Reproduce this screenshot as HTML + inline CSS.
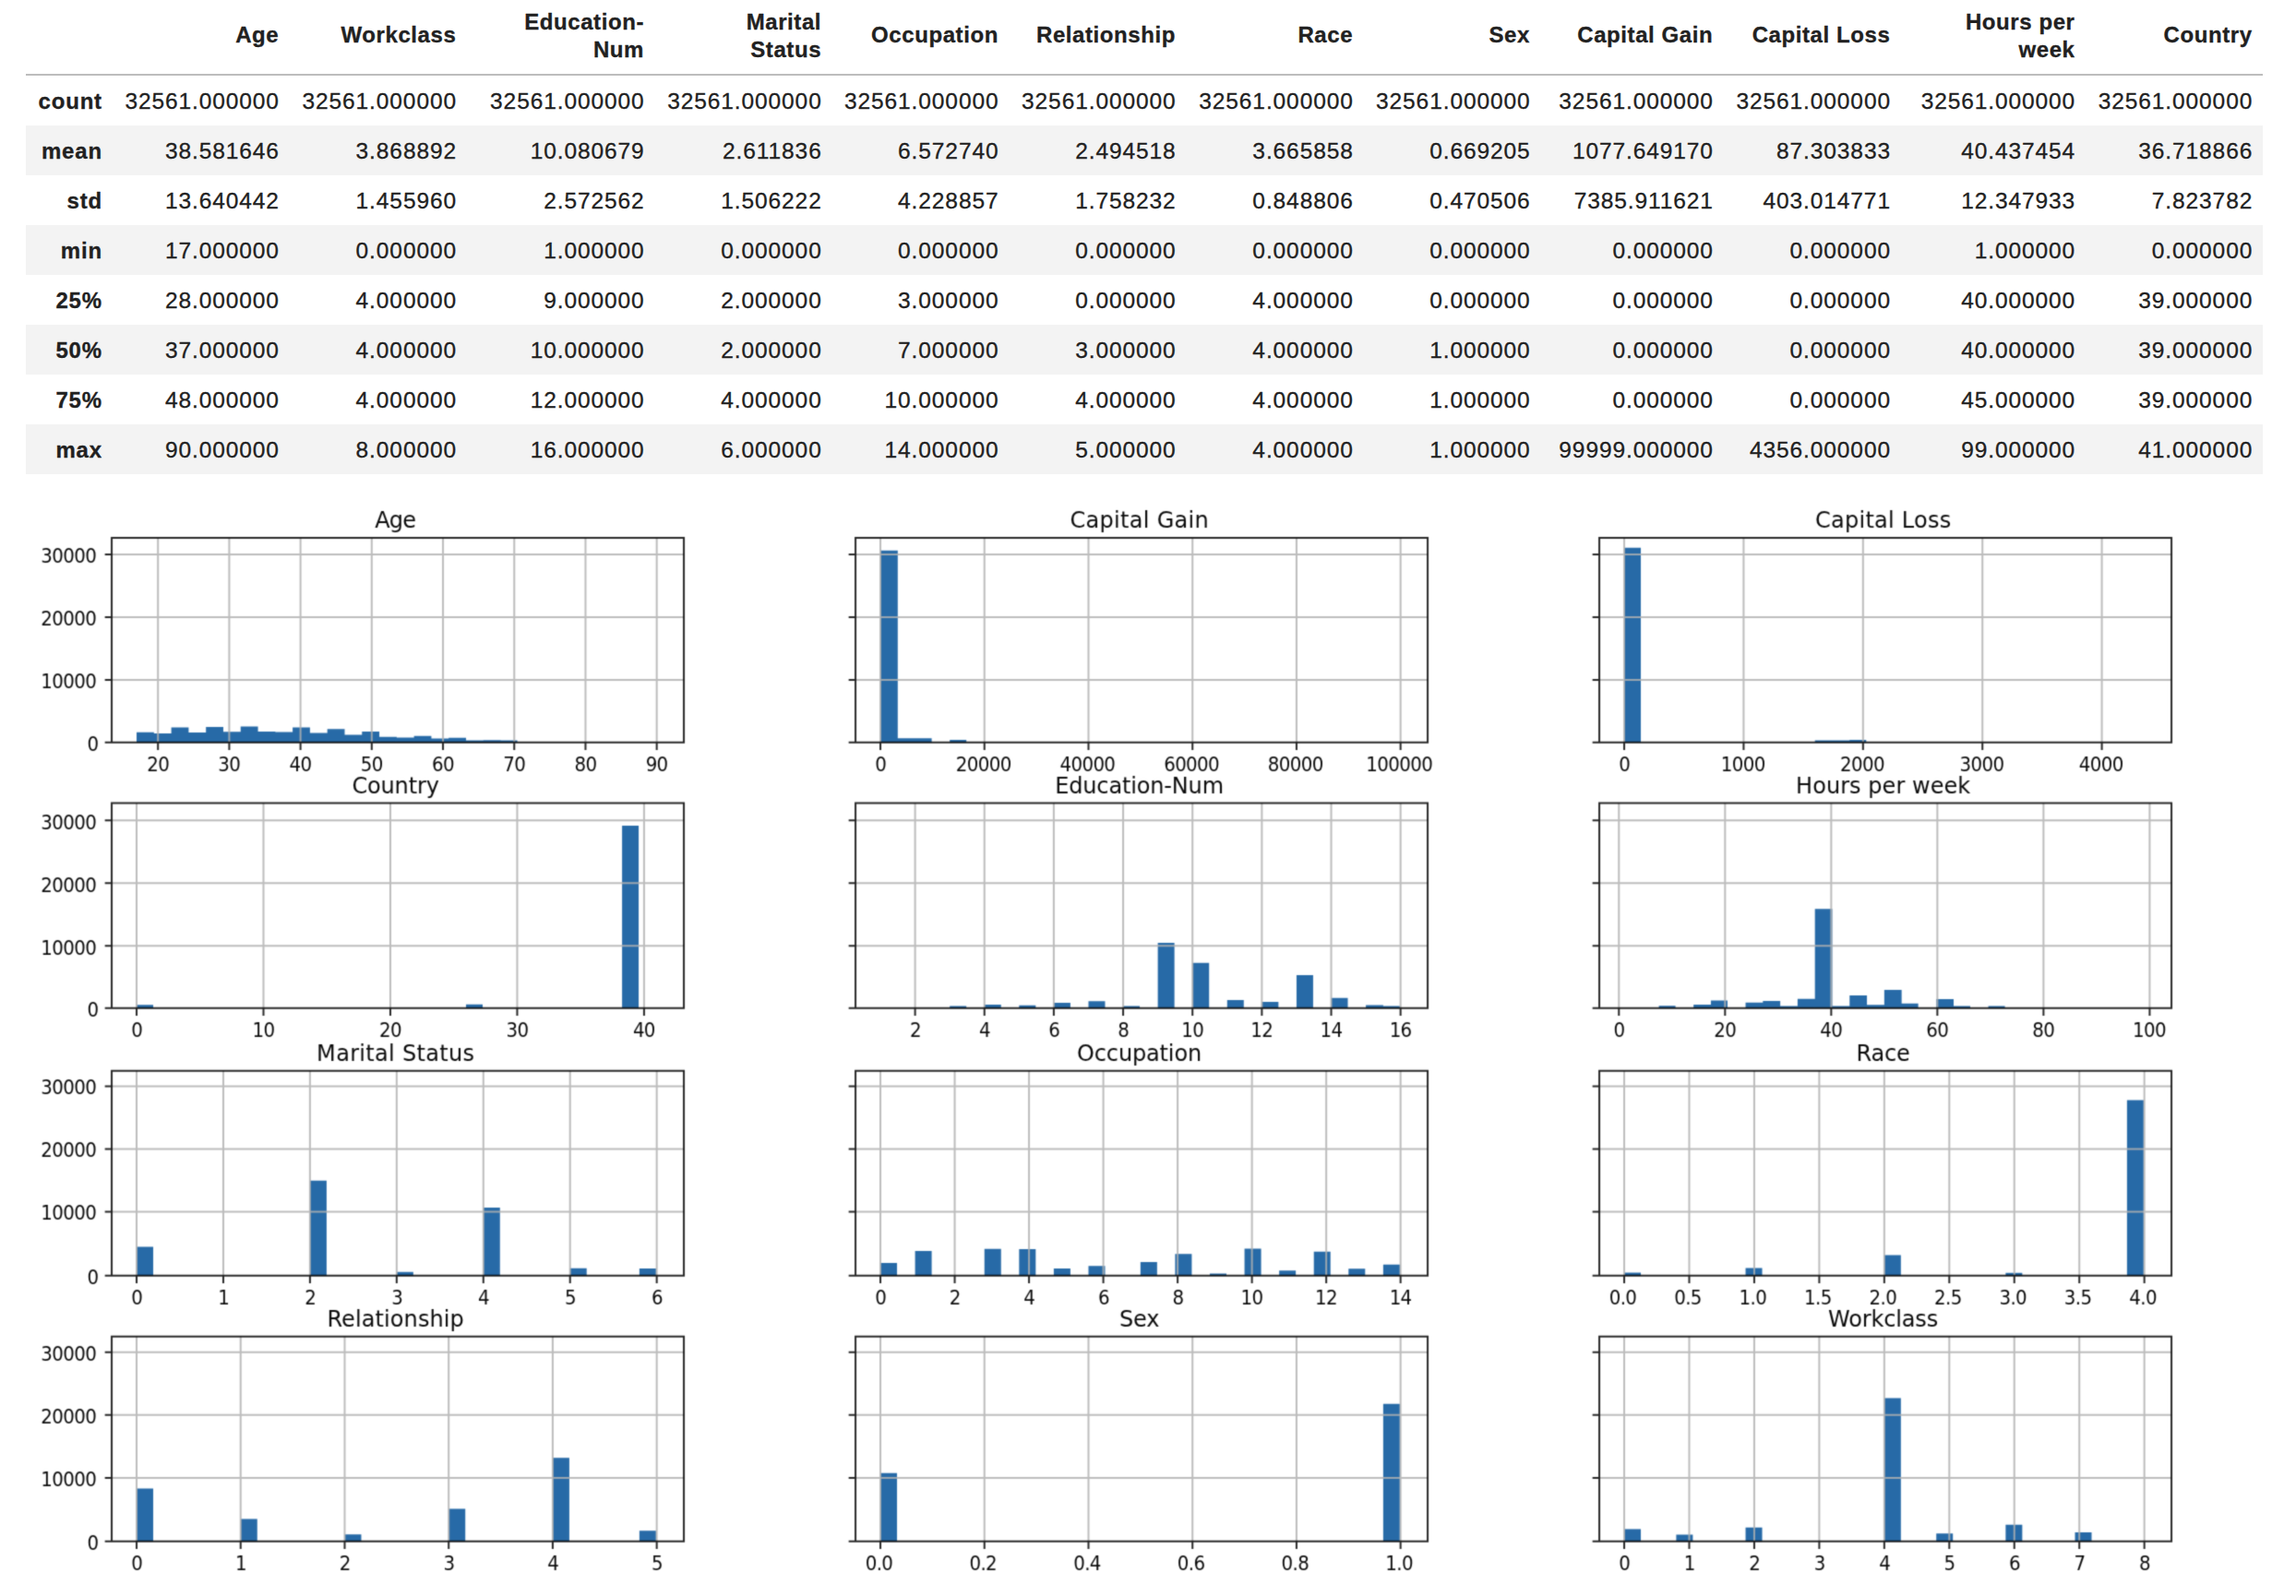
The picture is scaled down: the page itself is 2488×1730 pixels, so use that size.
<!DOCTYPE html>
<html lang="en"><head><meta charset="utf-8"><title>describe and hist</title><style>
html,body{margin:0;padding:0;background:#fff;}
body{width:2488px;height:1730px;position:relative;overflow:hidden;font-family:"Liberation Sans",Arial,sans-serif;color:#212121;}
table.df{position:absolute;left:28px;top:-2px;width:2423.8px;table-layout:fixed;border-collapse:separate;border-spacing:0;font-size:24.5px;line-height:30px;}
table.df th{-webkit-text-stroke:0.3px #212121;}
table.df th,table.df td{text-align:right;padding:0 12.2px 0 0;white-space:nowrap;overflow:visible;box-sizing:border-box;vertical-align:middle;}
table.df thead th{height:84px;border-bottom:2px solid #bdbdbd;font-weight:bold;font-size:24px;letter-spacing:0.58px;padding-bottom:1px;padding-right:11.2px;}
table.df thead th.s{padding-bottom:3px;}
table.df tbody th{font-weight:bold;font-size:24px;letter-spacing:0.8px;padding-right:10.8px;padding-top:2px;}
table.df tbody td{-webkit-text-stroke:0.3px #212121;letter-spacing:0.9px;padding-right:10.6px;padding-top:2px;}
table.df tbody tr{height:54px;}
table.df tbody tr:nth-child(even){background:#f3f3f3;}
svg.fig{position:absolute;left:0;top:0;}
svg.fig .tk{font-family:'DejaVu Sans Condensed','DejaVu Sans',sans-serif;font-size:22px;letter-spacing:-0.6px;}
svg.fig .tt{font-size:24px;letter-spacing:-0.15px;}
</style></head><body>
<table class="df">
<colgroup><col style="width:93.7px"><col style="width:191.8px"><col style="width:192.1px"><col style="width:203.6px"><col style="width:192.1px"><col style="width:191.8px"><col style="width:192.1px"><col style="width:192.2px"><col style="width:191.8px"><col style="width:198.3px"><col style="width:192.1px"><col style="width:200.2px"><col style="width:192.0px"></colgroup>
<thead><tr><th></th><th class="s">Age</th><th class="s">Workclass</th><th>Education-<br>Num</th><th>Marital<br>Status</th><th class="s">Occupation</th><th class="s">Relationship</th><th class="s">Race</th><th class="s">Sex</th><th class="s">Capital Gain</th><th class="s">Capital Loss</th><th>Hours per<br>week</th><th class="s">Country</th></tr></thead>
<tbody>
<tr><th>count</th><td>32561.000000</td><td>32561.000000</td><td>32561.000000</td><td>32561.000000</td><td>32561.000000</td><td>32561.000000</td><td>32561.000000</td><td>32561.000000</td><td>32561.000000</td><td>32561.000000</td><td>32561.000000</td><td>32561.000000</td></tr>
<tr><th>mean</th><td>38.581646</td><td>3.868892</td><td>10.080679</td><td>2.611836</td><td>6.572740</td><td>2.494518</td><td>3.665858</td><td>0.669205</td><td>1077.649170</td><td>87.303833</td><td>40.437454</td><td>36.718866</td></tr>
<tr><th>std</th><td>13.640442</td><td>1.455960</td><td>2.572562</td><td>1.506222</td><td>4.228857</td><td>1.758232</td><td>0.848806</td><td>0.470506</td><td>7385.911621</td><td>403.014771</td><td>12.347933</td><td>7.823782</td></tr>
<tr><th>min</th><td>17.000000</td><td>0.000000</td><td>1.000000</td><td>0.000000</td><td>0.000000</td><td>0.000000</td><td>0.000000</td><td>0.000000</td><td>0.000000</td><td>0.000000</td><td>1.000000</td><td>0.000000</td></tr>
<tr><th>25%</th><td>28.000000</td><td>4.000000</td><td>9.000000</td><td>2.000000</td><td>3.000000</td><td>0.000000</td><td>4.000000</td><td>0.000000</td><td>0.000000</td><td>0.000000</td><td>40.000000</td><td>39.000000</td></tr>
<tr><th>50%</th><td>37.000000</td><td>4.000000</td><td>10.000000</td><td>2.000000</td><td>7.000000</td><td>3.000000</td><td>4.000000</td><td>1.000000</td><td>0.000000</td><td>0.000000</td><td>40.000000</td><td>39.000000</td></tr>
<tr><th>75%</th><td>48.000000</td><td>4.000000</td><td>12.000000</td><td>4.000000</td><td>10.000000</td><td>4.000000</td><td>4.000000</td><td>1.000000</td><td>0.000000</td><td>0.000000</td><td>45.000000</td><td>39.000000</td></tr>
<tr><th>max</th><td>90.000000</td><td>8.000000</td><td>16.000000</td><td>6.000000</td><td>14.000000</td><td>5.000000</td><td>4.000000</td><td>1.000000</td><td>99999.000000</td><td>4356.000000</td><td>99.000000</td><td>41.000000</td></tr>
</tbody></table>
<svg class="fig" width="2488" height="1730" viewBox="0 0 2488 1730">
<defs><filter id="soft" filterUnits="userSpaceOnUse" x="0" y="520" width="2488" height="1210" color-interpolation-filters="sRGB"><feConvolveMatrix order="3" kernelMatrix="1 4 1 4 16 4 1 4 1" divisor="36" edgeMode="none" preserveAlpha="false"/></filter></defs>
<g filter="url(#soft)" font-family="'DejaVu Sans', 'Liberation Sans', sans-serif" fill="#0a0a0a">
<g>
<path fill="#276aa7" d="M148.03 804.7H166.82V793.79H148.03zM166.82 804.7H185.61V795.04H166.82zM185.61 804.7H204.4V788.46H185.61zM204.4 804.7H223.18V794H204.4zM223.18 804.7H241.97V787.95H223.18zM241.97 804.7H260.76V793.16H241.97zM260.76 804.7H279.55V787.45H260.76zM279.55 804.7H298.33V792.99H279.55zM298.33 804.7H317.12V793.6H298.33zM317.12 804.7H335.91V788.61H317.12zM335.91 804.7H354.7V794.51H335.91zM354.7 804.7H373.49V790.13H354.7zM373.49 804.7H392.27V796.55H373.49zM392.27 804.7H411.06V792.99H392.27zM411.06 804.7H429.85V798.65H411.06zM429.85 804.7H448.64V799.39H429.85zM448.64 804.7H467.43V797.64H448.64zM467.43 804.7H486.21V800.52H467.43zM486.21 804.7H505V799.7H486.21zM505 804.7H523.79V802.4H505zM523.79 804.7H542.58V802.2H523.79zM542.58 804.7H560.57V802.4H542.58z"/>
<path fill="none" stroke="#b0b0b0" stroke-opacity="0.85" stroke-width="2" d="M171.19 583V804.7M248.41 583V804.7M325.62 583V804.7M402.83 583V804.7M480.04 583V804.7M557.25 583V804.7M634.46 583V804.7M711.67 583V804.7M121.05 737.02H741.05M121.05 668.99H741.05M121.05 600.95H741.05"/>
<path fill="none" stroke="#000" stroke-opacity="0.85" stroke-width="2" stroke-linejoin="miter" d="M171.19 804.7v8.2M248.41 804.7v8.2M325.62 804.7v8.2M402.83 804.7v8.2M480.04 804.7v8.2M557.25 804.7v8.2M634.46 804.7v8.2M711.67 804.7v8.2M121.05 804.7h-7.4M121.05 737.02h-7.4M121.05 668.99h-7.4M121.05 600.95h-7.4M121.05 583H741.05V804.7H121.05z"/>
<text class="tk" x="171.14" y="836.1" text-anchor="middle">20</text>
<text class="tk" x="248.36" y="836.1" text-anchor="middle">30</text>
<text class="tk" x="325.57" y="836.1" text-anchor="middle">40</text>
<text class="tk" x="402.78" y="836.1" text-anchor="middle">50</text>
<text class="tk" x="479.99" y="836.1" text-anchor="middle">60</text>
<text class="tk" x="557.2" y="836.1" text-anchor="middle">70</text>
<text class="tk" x="634.41" y="836.1" text-anchor="middle">80</text>
<text class="tk" x="711.62" y="836.1" text-anchor="middle">90</text>
<text class="tk" x="106.55" y="813.7" text-anchor="end">0</text>
<text class="tk" x="104.15" y="745.82" text-anchor="end">10000</text>
<text class="tk" x="104.15" y="677.79" text-anchor="end">20000</text>
<text class="tk" x="104.15" y="609.75" text-anchor="end">30000</text>
<text class="tt" x="428.25" y="572.4" text-anchor="middle" style="letter-spacing:-0.75px">Age</text>
</g>
<g>
<path fill="#276aa7" d="M954.03 804.7H972.82V596.87H954.03zM972.82 804.7H991.61V800.3H972.82zM991.61 804.7H1009.6V800.3H991.61zM1029.18 804.7H1047.17V801.98H1029.18z"/>
<path fill="none" stroke="#b0b0b0" stroke-opacity="0.85" stroke-width="2" d="M954.03 583V804.7M1066.76 583V804.7M1179.49 583V804.7M1292.22 583V804.7M1404.95 583V804.7M1517.67 583V804.7M927.05 737.02H1547.05M927.05 668.99H1547.05M927.05 600.95H1547.05"/>
<path fill="none" stroke="#000" stroke-opacity="0.85" stroke-width="2" stroke-linejoin="miter" d="M954.03 804.7v8.2M1066.76 804.7v8.2M1179.49 804.7v8.2M1292.22 804.7v8.2M1404.95 804.7v8.2M1517.67 804.7v8.2M927.05 804.7h-7.4M927.05 737.02h-7.4M927.05 668.99h-7.4M927.05 600.95h-7.4M927.05 583H1547.05V804.7H927.05z"/>
<text class="tk" x="954.33" y="836.1" text-anchor="middle">0</text>
<text class="tk" x="1065.66" y="836.1" text-anchor="middle">20000</text>
<text class="tk" x="1178.39" y="836.1" text-anchor="middle">40000</text>
<text class="tk" x="1291.12" y="836.1" text-anchor="middle">60000</text>
<text class="tk" x="1403.85" y="836.1" text-anchor="middle">80000</text>
<text class="tk" x="1516.22" y="836.1" text-anchor="middle">100000</text>
<text class="tt" x="1234.77" y="572.4" text-anchor="middle" style="letter-spacing:0.29px">Capital Gain</text>
</g>
<g>
<path fill="#276aa7" d="M1760.03 804.7H1778.02V593.86H1760.03zM1966.7 804.7H1985.49V802.4H1966.7zM1985.49 804.7H2004.27V802.4H1985.49zM2004.27 804.7H2022.26V801.95H2004.27z"/>
<path fill="none" stroke="#b0b0b0" stroke-opacity="0.85" stroke-width="2" d="M1760.03 583V804.7M1889.42 583V804.7M2018.82 583V804.7M2148.21 583V804.7M2277.6 583V804.7M1733.05 737.02H2353.05M1733.05 668.99H2353.05M1733.05 600.95H2353.05"/>
<path fill="none" stroke="#000" stroke-opacity="0.85" stroke-width="2" stroke-linejoin="miter" d="M1760.03 804.7v8.2M1889.42 804.7v8.2M2018.82 804.7v8.2M2148.21 804.7v8.2M2277.6 804.7v8.2M1733.05 804.7h-7.4M1733.05 737.02h-7.4M1733.05 668.99h-7.4M1733.05 600.95h-7.4M1733.05 583H2353.05V804.7H1733.05z"/>
<text class="tk" x="1760.33" y="836.1" text-anchor="middle">0</text>
<text class="tk" x="1888.67" y="836.1" text-anchor="middle">1000</text>
<text class="tk" x="2018.07" y="836.1" text-anchor="middle">2000</text>
<text class="tk" x="2147.46" y="836.1" text-anchor="middle">3000</text>
<text class="tk" x="2276.85" y="836.1" text-anchor="middle">4000</text>
<text class="tt" x="2040.75" y="572.4" text-anchor="middle" style="letter-spacing:0.25px">Capital Loss</text>
</g>
<g>
<path fill="#276aa7" d="M148.03 1092.7H166.02V1089.25H148.03zM505 1092.7H522.99V1088.74H505zM674.09 1092.7H692.08V894.89H674.09z"/>
<path fill="none" stroke="#b0b0b0" stroke-opacity="0.85" stroke-width="2" d="M148.03 870.6V1092.7M285.5 870.6V1092.7M422.98 870.6V1092.7M560.45 870.6V1092.7M697.92 870.6V1092.7M121.05 1025.31H741.05M121.05 957.28H741.05M121.05 889.24H741.05"/>
<path fill="none" stroke="#000" stroke-opacity="0.85" stroke-width="2" stroke-linejoin="miter" d="M148.03 1092.7v8.2M285.5 1092.7v8.2M422.98 1092.7v8.2M560.45 1092.7v8.2M697.92 1092.7v8.2M121.05 1092.7h-7.4M121.05 1025.31h-7.4M121.05 957.28h-7.4M121.05 889.24h-7.4M121.05 870.6H741.05V1092.7H121.05z"/>
<text class="tk" x="148.33" y="1124.1" text-anchor="middle">0</text>
<text class="tk" x="285.45" y="1124.1" text-anchor="middle">10</text>
<text class="tk" x="422.93" y="1124.1" text-anchor="middle">20</text>
<text class="tk" x="560.4" y="1124.1" text-anchor="middle">30</text>
<text class="tk" x="697.87" y="1124.1" text-anchor="middle">40</text>
<text class="tk" x="106.55" y="1101.7" text-anchor="end">0</text>
<text class="tk" x="104.15" y="1035.11" text-anchor="end">10000</text>
<text class="tk" x="104.15" y="967.08" text-anchor="end">20000</text>
<text class="tk" x="104.15" y="899.04" text-anchor="end">30000</text>
<text class="tt" x="428.55" y="860" text-anchor="middle">Country</text>
</g>
<g>
<path fill="#276aa7" d="M1029.18 1092.7H1047.17V1090.4H1029.18zM1066.76 1092.7H1084.75V1088.95H1066.76zM1104.33 1092.7H1122.32V1089.85H1104.33zM1141.91 1092.7H1159.9V1087H1141.91zM1179.49 1092.7H1197.47V1085.36H1179.49zM1217.06 1092.7H1235.05V1090.4H1217.06zM1254.64 1092.7H1272.63V1021.9H1254.64zM1292.21 1092.7H1310.2V1043.74H1292.21zM1329.79 1092.7H1347.78V1083.95H1329.79zM1367.37 1092.7H1385.35V1086.09H1367.37zM1404.94 1092.7H1422.93V1056.92H1404.94zM1442.52 1092.7H1460.5V1081.63H1442.52zM1480.09 1092.7H1498.88V1089.43H1480.09zM1498.88 1092.7H1516.87V1090.4H1498.88z"/>
<path fill="none" stroke="#b0b0b0" stroke-opacity="0.85" stroke-width="2" d="M991.61 870.6V1092.7M1066.76 870.6V1092.7M1141.91 870.6V1092.7M1217.06 870.6V1092.7M1292.21 870.6V1092.7M1367.37 870.6V1092.7M1442.52 870.6V1092.7M1517.67 870.6V1092.7M927.05 1025.31H1547.05M927.05 957.28H1547.05M927.05 889.24H1547.05"/>
<path fill="none" stroke="#000" stroke-opacity="0.85" stroke-width="2" stroke-linejoin="miter" d="M991.61 1092.7v8.2M1066.76 1092.7v8.2M1141.91 1092.7v8.2M1217.06 1092.7v8.2M1292.21 1092.7v8.2M1367.37 1092.7v8.2M1442.52 1092.7v8.2M1517.67 1092.7v8.2M927.05 1092.7h-7.4M927.05 1025.31h-7.4M927.05 957.28h-7.4M927.05 889.24h-7.4M927.05 870.6H1547.05V1092.7H927.05z"/>
<text class="tk" x="991.91" y="1124.1" text-anchor="middle">2</text>
<text class="tk" x="1067.06" y="1124.1" text-anchor="middle">4</text>
<text class="tk" x="1142.21" y="1124.1" text-anchor="middle">6</text>
<text class="tk" x="1217.36" y="1124.1" text-anchor="middle">8</text>
<text class="tk" x="1292.16" y="1124.1" text-anchor="middle">10</text>
<text class="tk" x="1367.32" y="1124.1" text-anchor="middle">12</text>
<text class="tk" x="1442.47" y="1124.1" text-anchor="middle">14</text>
<text class="tk" x="1517.62" y="1124.1" text-anchor="middle">16</text>
<text class="tt" x="1234.55" y="860" text-anchor="middle">Education-Num</text>
</g>
<g>
<path fill="#276aa7" d="M1797.61 1092.7H1815.6V1090.35H1797.61zM1835.18 1092.7H1853.97V1089.01H1835.18zM1853.97 1092.7H1871.96V1084.42H1853.97zM1891.55 1092.7H1910.33V1086.64H1891.55zM1910.33 1092.7H1929.12V1084.9H1910.33zM1929.12 1092.7H1947.91V1090.4H1929.12zM1947.91 1092.7H1966.7V1082.84H1947.91zM1966.7 1092.7H1985.49V985.31H1966.7zM1985.49 1092.7H2004.27V1090.4H1985.49zM2004.27 1092.7H2023.06V1078.94H2004.27zM2023.06 1092.7H2041.85V1089.3H2023.06zM2041.85 1092.7H2060.64V1072.97H2041.85zM2060.64 1092.7H2078.63V1087.69H2060.64zM2098.21 1092.7H2117V1083.11H2098.21zM2117 1092.7H2134.99V1090.4H2117zM2154.58 1092.7H2172.57V1090.4H2154.58z"/>
<path fill="none" stroke="#b0b0b0" stroke-opacity="0.85" stroke-width="2" d="M1754.28 870.6V1092.7M1869.31 870.6V1092.7M1984.34 870.6V1092.7M2099.36 870.6V1092.7M2214.39 870.6V1092.7M2329.42 870.6V1092.7M1733.05 1025.31H2353.05M1733.05 957.28H2353.05M1733.05 889.24H2353.05"/>
<path fill="none" stroke="#000" stroke-opacity="0.85" stroke-width="2" stroke-linejoin="miter" d="M1754.28 1092.7v8.2M1869.31 1092.7v8.2M1984.34 1092.7v8.2M2099.36 1092.7v8.2M2214.39 1092.7v8.2M2329.42 1092.7v8.2M1733.05 1092.7h-7.4M1733.05 1025.31h-7.4M1733.05 957.28h-7.4M1733.05 889.24h-7.4M1733.05 870.6H2353.05V1092.7H1733.05z"/>
<text class="tk" x="1754.58" y="1124.1" text-anchor="middle">0</text>
<text class="tk" x="1869.26" y="1124.1" text-anchor="middle">20</text>
<text class="tk" x="1984.29" y="1124.1" text-anchor="middle">40</text>
<text class="tk" x="2099.31" y="1124.1" text-anchor="middle">60</text>
<text class="tk" x="2214.34" y="1124.1" text-anchor="middle">80</text>
<text class="tk" x="2329.02" y="1124.1" text-anchor="middle">100</text>
<text class="tt" x="2040.65" y="860" text-anchor="middle" style="letter-spacing:0.05px">Hours per week</text>
</g>
<g>
<path fill="#276aa7" d="M148.03 1382.7H166.02V1351.41H148.03zM335.91 1382.7H353.9V1279.75H335.91zM429.85 1382.7H447.84V1378.8H429.85zM523.79 1382.7H541.78V1308.96H523.79zM617.73 1382.7H635.72V1374.67H617.73zM692.88 1382.7H710.87V1374.88H692.88z"/>
<path fill="none" stroke="#b0b0b0" stroke-opacity="0.85" stroke-width="2" d="M148.03 1160.8V1382.7M241.97 1160.8V1382.7M335.91 1160.8V1382.7M429.85 1160.8V1382.7M523.79 1160.8V1382.7M617.73 1160.8V1382.7M711.67 1160.8V1382.7M121.05 1313.6H741.05M121.05 1245.57H741.05M121.05 1177.53H741.05"/>
<path fill="none" stroke="#000" stroke-opacity="0.85" stroke-width="2" stroke-linejoin="miter" d="M148.03 1382.7v8.2M241.97 1382.7v8.2M335.91 1382.7v8.2M429.85 1382.7v8.2M523.79 1382.7v8.2M617.73 1382.7v8.2M711.67 1382.7v8.2M121.05 1382.7h-7.4M121.05 1313.6h-7.4M121.05 1245.57h-7.4M121.05 1177.53h-7.4M121.05 1160.8H741.05V1382.7H121.05z"/>
<text class="tk" x="148.33" y="1414.1" text-anchor="middle">0</text>
<text class="tk" x="242.27" y="1414.1" text-anchor="middle">1</text>
<text class="tk" x="336.21" y="1414.1" text-anchor="middle">2</text>
<text class="tk" x="430.15" y="1414.1" text-anchor="middle">3</text>
<text class="tk" x="524.09" y="1414.1" text-anchor="middle">4</text>
<text class="tk" x="618.03" y="1414.1" text-anchor="middle">5</text>
<text class="tk" x="711.97" y="1414.1" text-anchor="middle">6</text>
<text class="tk" x="106.55" y="1391.7" text-anchor="end">0</text>
<text class="tk" x="104.15" y="1321.7" text-anchor="end">10000</text>
<text class="tk" x="104.15" y="1253.67" text-anchor="end">20000</text>
<text class="tk" x="104.15" y="1185.63" text-anchor="end">30000</text>
<text class="tt" x="428.78" y="1150.2" text-anchor="middle" style="letter-spacing:0.32px">Marital Status</text>
</g>
<g>
<path fill="#276aa7" d="M954.03 1382.7H972.02V1369.1H954.03zM991.61 1382.7H1009.6V1355.99H991.61zM1066.76 1382.7H1084.75V1353.75H1066.76zM1104.33 1382.7H1122.32V1353.98H1104.33zM1141.91 1382.7H1159.9V1374.88H1141.91zM1179.49 1382.7H1197.47V1372.32H1179.49zM1235.85 1382.7H1253.84V1368.02H1235.85zM1273.43 1382.7H1291.41V1359.22H1273.43zM1311 1382.7H1328.99V1380.4H1311zM1348.58 1382.7H1366.57V1353.47H1348.58zM1386.15 1382.7H1404.14V1377.22H1386.15zM1423.73 1382.7H1441.72V1356.81H1423.73zM1461.3 1382.7H1479.29V1375.33H1461.3zM1498.88 1382.7H1516.87V1370.77H1498.88z"/>
<path fill="none" stroke="#b0b0b0" stroke-opacity="0.85" stroke-width="2" d="M954.03 1160.8V1382.7M1034.55 1160.8V1382.7M1115.07 1160.8V1382.7M1195.59 1160.8V1382.7M1276.11 1160.8V1382.7M1356.63 1160.8V1382.7M1437.15 1160.8V1382.7M1517.67 1160.8V1382.7M927.05 1313.6H1547.05M927.05 1245.57H1547.05M927.05 1177.53H1547.05"/>
<path fill="none" stroke="#000" stroke-opacity="0.85" stroke-width="2" stroke-linejoin="miter" d="M954.03 1382.7v8.2M1034.55 1382.7v8.2M1115.07 1382.7v8.2M1195.59 1382.7v8.2M1276.11 1382.7v8.2M1356.63 1382.7v8.2M1437.15 1382.7v8.2M1517.67 1382.7v8.2M927.05 1382.7h-7.4M927.05 1313.6h-7.4M927.05 1245.57h-7.4M927.05 1177.53h-7.4M927.05 1160.8H1547.05V1382.7H927.05z"/>
<text class="tk" x="954.33" y="1414.1" text-anchor="middle">0</text>
<text class="tk" x="1034.85" y="1414.1" text-anchor="middle">2</text>
<text class="tk" x="1115.37" y="1414.1" text-anchor="middle">4</text>
<text class="tk" x="1195.89" y="1414.1" text-anchor="middle">6</text>
<text class="tk" x="1276.41" y="1414.1" text-anchor="middle">8</text>
<text class="tk" x="1356.58" y="1414.1" text-anchor="middle">10</text>
<text class="tk" x="1437.1" y="1414.1" text-anchor="middle">12</text>
<text class="tk" x="1517.62" y="1414.1" text-anchor="middle">14</text>
<text class="tt" x="1234.55" y="1150.2" text-anchor="middle">Occupation</text>
</g>
<g>
<path fill="#276aa7" d="M1760.03 1382.7H1778.02V1379.52H1760.03zM1891.55 1382.7H1909.53V1374.57H1891.55zM2041.85 1382.7H2059.84V1360.39H2041.85zM2173.37 1382.7H2191.35V1379.8H2173.37zM2304.88 1382.7H2322.87V1192.39H2304.88z"/>
<path fill="none" stroke="#b0b0b0" stroke-opacity="0.85" stroke-width="2" d="M1760.03 1160.8V1382.7M1830.49 1160.8V1382.7M1900.94 1160.8V1382.7M1971.4 1160.8V1382.7M2041.85 1160.8V1382.7M2112.3 1160.8V1382.7M2182.76 1160.8V1382.7M2253.21 1160.8V1382.7M2323.67 1160.8V1382.7M1733.05 1313.6H2353.05M1733.05 1245.57H2353.05M1733.05 1177.53H2353.05"/>
<path fill="none" stroke="#000" stroke-opacity="0.85" stroke-width="2" stroke-linejoin="miter" d="M1760.03 1382.7v8.2M1830.49 1382.7v8.2M1900.94 1382.7v8.2M1971.4 1382.7v8.2M2041.85 1382.7v8.2M2112.3 1382.7v8.2M2182.76 1382.7v8.2M2253.21 1382.7v8.2M2323.67 1382.7v8.2M1733.05 1382.7h-7.4M1733.05 1313.6h-7.4M1733.05 1245.57h-7.4M1733.05 1177.53h-7.4M1733.05 1160.8H2353.05V1382.7H1733.05z"/>
<text class="tk" x="1758.53" y="1414.1" text-anchor="middle">0.0</text>
<text class="tk" x="1828.99" y="1414.1" text-anchor="middle">0.5</text>
<text class="tk" x="1899.44" y="1414.1" text-anchor="middle">1.0</text>
<text class="tk" x="1969.9" y="1414.1" text-anchor="middle">1.5</text>
<text class="tk" x="2040.35" y="1414.1" text-anchor="middle">2.0</text>
<text class="tk" x="2110.8" y="1414.1" text-anchor="middle">2.5</text>
<text class="tk" x="2181.26" y="1414.1" text-anchor="middle">3.0</text>
<text class="tk" x="2251.71" y="1414.1" text-anchor="middle">3.5</text>
<text class="tk" x="2322.17" y="1414.1" text-anchor="middle">4.0</text>
<text class="tt" x="2040.55" y="1150.2" text-anchor="middle">Race</text>
</g>
<g>
<path fill="#276aa7" d="M148.03 1670.7H166.02V1613.43H148.03zM260.76 1670.7H278.75V1646.48H260.76zM373.49 1670.7H391.47V1663.26H373.49zM486.21 1670.7H504.2V1635.45H486.21zM598.94 1670.7H616.93V1580.17H598.94zM692.88 1670.7H710.87V1659.26H692.88z"/>
<path fill="none" stroke="#b0b0b0" stroke-opacity="0.85" stroke-width="2" d="M148.03 1448.65V1670.7M260.76 1448.65V1670.7M373.49 1448.65V1670.7M486.21 1448.65V1670.7M598.94 1448.65V1670.7M711.67 1448.65V1670.7M121.05 1601.89H741.05M121.05 1533.86H741.05M121.05 1465.82H741.05"/>
<path fill="none" stroke="#000" stroke-opacity="0.85" stroke-width="2" stroke-linejoin="miter" d="M148.03 1670.7v8.2M260.76 1670.7v8.2M373.49 1670.7v8.2M486.21 1670.7v8.2M598.94 1670.7v8.2M711.67 1670.7v8.2M121.05 1670.7h-7.4M121.05 1601.89h-7.4M121.05 1533.86h-7.4M121.05 1465.82h-7.4M121.05 1448.65H741.05V1670.7H121.05z"/>
<text class="tk" x="148.33" y="1702.1" text-anchor="middle">0</text>
<text class="tk" x="261.06" y="1702.1" text-anchor="middle">1</text>
<text class="tk" x="373.79" y="1702.1" text-anchor="middle">2</text>
<text class="tk" x="486.51" y="1702.1" text-anchor="middle">3</text>
<text class="tk" x="599.24" y="1702.1" text-anchor="middle">4</text>
<text class="tk" x="711.97" y="1702.1" text-anchor="middle">5</text>
<text class="tk" x="106.55" y="1679.7" text-anchor="end">0</text>
<text class="tk" x="104.15" y="1610.99" text-anchor="end">10000</text>
<text class="tk" x="104.15" y="1542.96" text-anchor="end">20000</text>
<text class="tk" x="104.15" y="1474.92" text-anchor="end">30000</text>
<text class="tt" x="428.67" y="1438.05" text-anchor="middle" style="letter-spacing:0.1px">Relationship</text>
</g>
<g>
<path fill="#276aa7" d="M954.03 1670.7H972.02V1596.65H954.03zM1498.88 1670.7H1516.87V1521.68H1498.88z"/>
<path fill="none" stroke="#b0b0b0" stroke-opacity="0.85" stroke-width="2" d="M954.03 1448.65V1670.7M1066.76 1448.65V1670.7M1179.49 1448.65V1670.7M1292.21 1448.65V1670.7M1404.94 1448.65V1670.7M1517.67 1448.65V1670.7M927.05 1601.89H1547.05M927.05 1533.86H1547.05M927.05 1465.82H1547.05"/>
<path fill="none" stroke="#000" stroke-opacity="0.85" stroke-width="2" stroke-linejoin="miter" d="M954.03 1670.7v8.2M1066.76 1670.7v8.2M1179.49 1670.7v8.2M1292.21 1670.7v8.2M1404.94 1670.7v8.2M1517.67 1670.7v8.2M927.05 1670.7h-7.4M927.05 1601.89h-7.4M927.05 1533.86h-7.4M927.05 1465.82h-7.4M927.05 1448.65H1547.05V1670.7H927.05z"/>
<text class="tk" x="952.53" y="1702.1" text-anchor="middle">0.0</text>
<text class="tk" x="1065.26" y="1702.1" text-anchor="middle">0.2</text>
<text class="tk" x="1177.99" y="1702.1" text-anchor="middle">0.4</text>
<text class="tk" x="1290.71" y="1702.1" text-anchor="middle">0.6</text>
<text class="tk" x="1403.44" y="1702.1" text-anchor="middle">0.8</text>
<text class="tk" x="1516.17" y="1702.1" text-anchor="middle">1.0</text>
<text class="tt" x="1234.55" y="1438.05" text-anchor="middle">Sex</text>
</g>
<g>
<path fill="#276aa7" d="M1760.03 1670.7H1778.02V1657.44H1760.03zM1816.4 1670.7H1834.38V1663.4H1816.4zM1891.55 1670.7H1909.53V1655.69H1891.55zM2041.85 1670.7H2059.84V1515.51H2041.85zM2098.21 1670.7H2116.2V1662.34H2098.21zM2173.37 1670.7H2191.35V1652.64H2173.37zM2248.52 1670.7H2266.5V1661.1H2248.52z"/>
<path fill="none" stroke="#b0b0b0" stroke-opacity="0.85" stroke-width="2" d="M1760.03 1448.65V1670.7M1830.49 1448.65V1670.7M1900.94 1448.65V1670.7M1971.4 1448.65V1670.7M2041.85 1448.65V1670.7M2112.3 1448.65V1670.7M2182.76 1448.65V1670.7M2253.21 1448.65V1670.7M2323.67 1448.65V1670.7M1733.05 1601.89H2353.05M1733.05 1533.86H2353.05M1733.05 1465.82H2353.05"/>
<path fill="none" stroke="#000" stroke-opacity="0.85" stroke-width="2" stroke-linejoin="miter" d="M1760.03 1670.7v8.2M1830.49 1670.7v8.2M1900.94 1670.7v8.2M1971.4 1670.7v8.2M2041.85 1670.7v8.2M2112.3 1670.7v8.2M2182.76 1670.7v8.2M2253.21 1670.7v8.2M2323.67 1670.7v8.2M1733.05 1670.7h-7.4M1733.05 1601.89h-7.4M1733.05 1533.86h-7.4M1733.05 1465.82h-7.4M1733.05 1448.65H2353.05V1670.7H1733.05z"/>
<text class="tk" x="1760.33" y="1702.1" text-anchor="middle">0</text>
<text class="tk" x="1830.79" y="1702.1" text-anchor="middle">1</text>
<text class="tk" x="1901.24" y="1702.1" text-anchor="middle">2</text>
<text class="tk" x="1971.7" y="1702.1" text-anchor="middle">3</text>
<text class="tk" x="2042.15" y="1702.1" text-anchor="middle">4</text>
<text class="tk" x="2112.6" y="1702.1" text-anchor="middle">5</text>
<text class="tk" x="2183.06" y="1702.1" text-anchor="middle">6</text>
<text class="tk" x="2253.51" y="1702.1" text-anchor="middle">7</text>
<text class="tk" x="2323.97" y="1702.1" text-anchor="middle">8</text>
<text class="tt" x="2040.55" y="1438.05" text-anchor="middle">Workclass</text>
</g>
</g></svg>
</body></html>
